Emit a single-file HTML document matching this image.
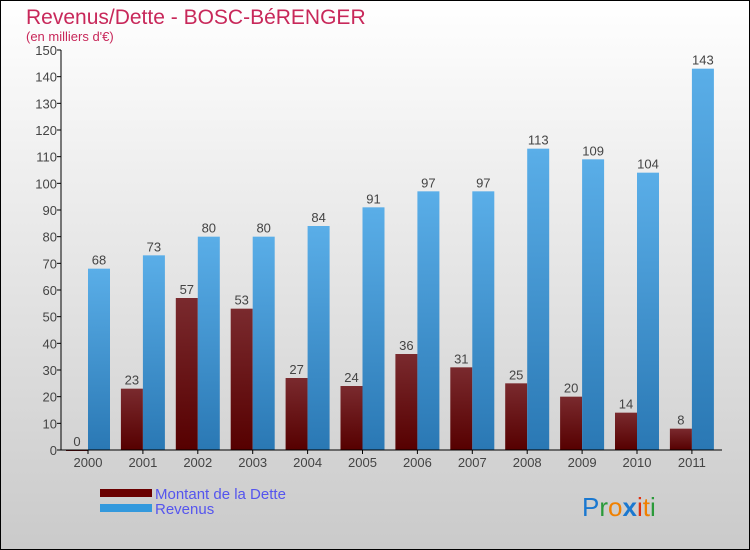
<!DOCTYPE html>
<html><head><meta charset="utf-8"><style>
body{margin:0}
svg{display:block;font-family:"Liberation Sans",sans-serif}
</style></head><body>
<svg id="c" width="750" height="550" xmlns="http://www.w3.org/2000/svg">
<defs>
<linearGradient id="bg" x1="0" y1="0" x2="0" y2="1"><stop offset="0" stop-color="#ffffff"/><stop offset="1" stop-color="#cacaca"/></linearGradient>
<linearGradient id="gd" x1="0" y1="0" x2="0" y2="1"><stop offset="0" stop-color="#7a2a2e"/><stop offset="1" stop-color="#560000"/></linearGradient>
<linearGradient id="gr" x1="0" y1="0" x2="0" y2="1"><stop offset="0" stop-color="#5aaee8"/><stop offset="1" stop-color="#2a78b4"/></linearGradient>
</defs>
<rect x="0.5" y="0.5" width="749" height="549" fill="url(#bg)" stroke="#000"/>
<text x="26" y="24" font-size="21" fill="#c8285a">Revenus/Dette - BOSC-BéRENGER</text>
<text x="26" y="41" font-size="13" fill="#c8285a">(en milliers d'€)</text>
<g id="plot"></g>
<rect x="100" y="489" width="52" height="8" fill="#6a0000"/>
<rect x="100" y="504" width="52" height="8" fill="#3399dd"/>
<text x="155" y="499" font-size="15" fill="#5555ee">Montant de la Dette</text>
<text x="155" y="514" font-size="15" fill="#5555ee">Revenus</text>
<g font-size="26" font-family="Liberation Sans,sans-serif">
<text x="582" y="516"><tspan fill="#1a78d0">P</tspan><tspan fill="#2a9a3a">r</tspan><tspan fill="#f08000">o</tspan><tspan fill="#1a78d0" font-weight="bold">x</tspan><tspan fill="#e03010">i</tspan><tspan fill="#f08000">t</tspan><tspan fill="#2a9a3a">i</tspan></text>
</g>
</svg>
<script>
const years=["2000","2001","2002","2003","2004","2005","2006","2007","2008","2009","2010","2011"];
const dette=[0,23,57,53,27,24,36,31,25,20,14,8];
const revenus=[68,73,80,80,84,91,97,97,113,109,104,143];
const ticks=[0,10,20,30,40,50,60,70,80,90,100,110,120,130,140,150];
const NS="http://www.w3.org/2000/svg";
const g=document.getElementById('plot');
const y0=450,yTop=50,vMax=150,xAxis=61;
const yS=v=>y0-(v/vMax)*(y0-yTop);
const xC=i=>88+i*54.9;
function mk(t,a){const e=document.createElementNS(NS,t);for(const k in a)e.setAttribute(k,a[k]);g.appendChild(e);return e;}
ticks.forEach(t=>{
const l=mk('line',{x1:xAxis-4,x2:xAxis,y1:yS(t),y2:yS(t),stroke:'#000'});


const tx=mk('text',{x:xAxis-4,y:yS(t)+5,'font-size':13,fill:'#444','text-anchor':'end'});tx.textContent=t;


});
years.forEach((yr,i)=>{
const c=xC(i);
const hd=y0-yS(dette[i]);
const bd=mk('rect',{x:c-22,y:yS(dette[i]),width:22,height:Math.max(hd,1),fill:'url(#gd)'});


const br=mk('rect',{x:c,y:yS(revenus[i]),width:22,height:y0-yS(revenus[i]),fill:'url(#gr)'});


const t1=mk('text',{x:c-11,y:yS(dette[i])-4,'font-size':13,fill:'#444','text-anchor':'middle'});t1.textContent=dette[i];


const t2=mk('text',{x:c+11,y:yS(revenus[i])-4,'font-size':13,fill:'#444','text-anchor':'middle'});t2.textContent=revenus[i];


const tk=mk('line',{x1:c,x2:c,y1:y0,y2:y0+4,stroke:'#000'});


const xl=mk('text',{x:c,y:y0+17,'font-size':13,fill:'#444','text-anchor':'middle'});xl.textContent=yr;


});
const ya=mk('line',{x1:xAxis,x2:xAxis,y1:yTop,y2:y0,stroke:'#000'});


const xa=mk('line',{x1:xAxis,x2:722,y1:y0,y2:y0,stroke:'#000'});


</script>
</body></html>
